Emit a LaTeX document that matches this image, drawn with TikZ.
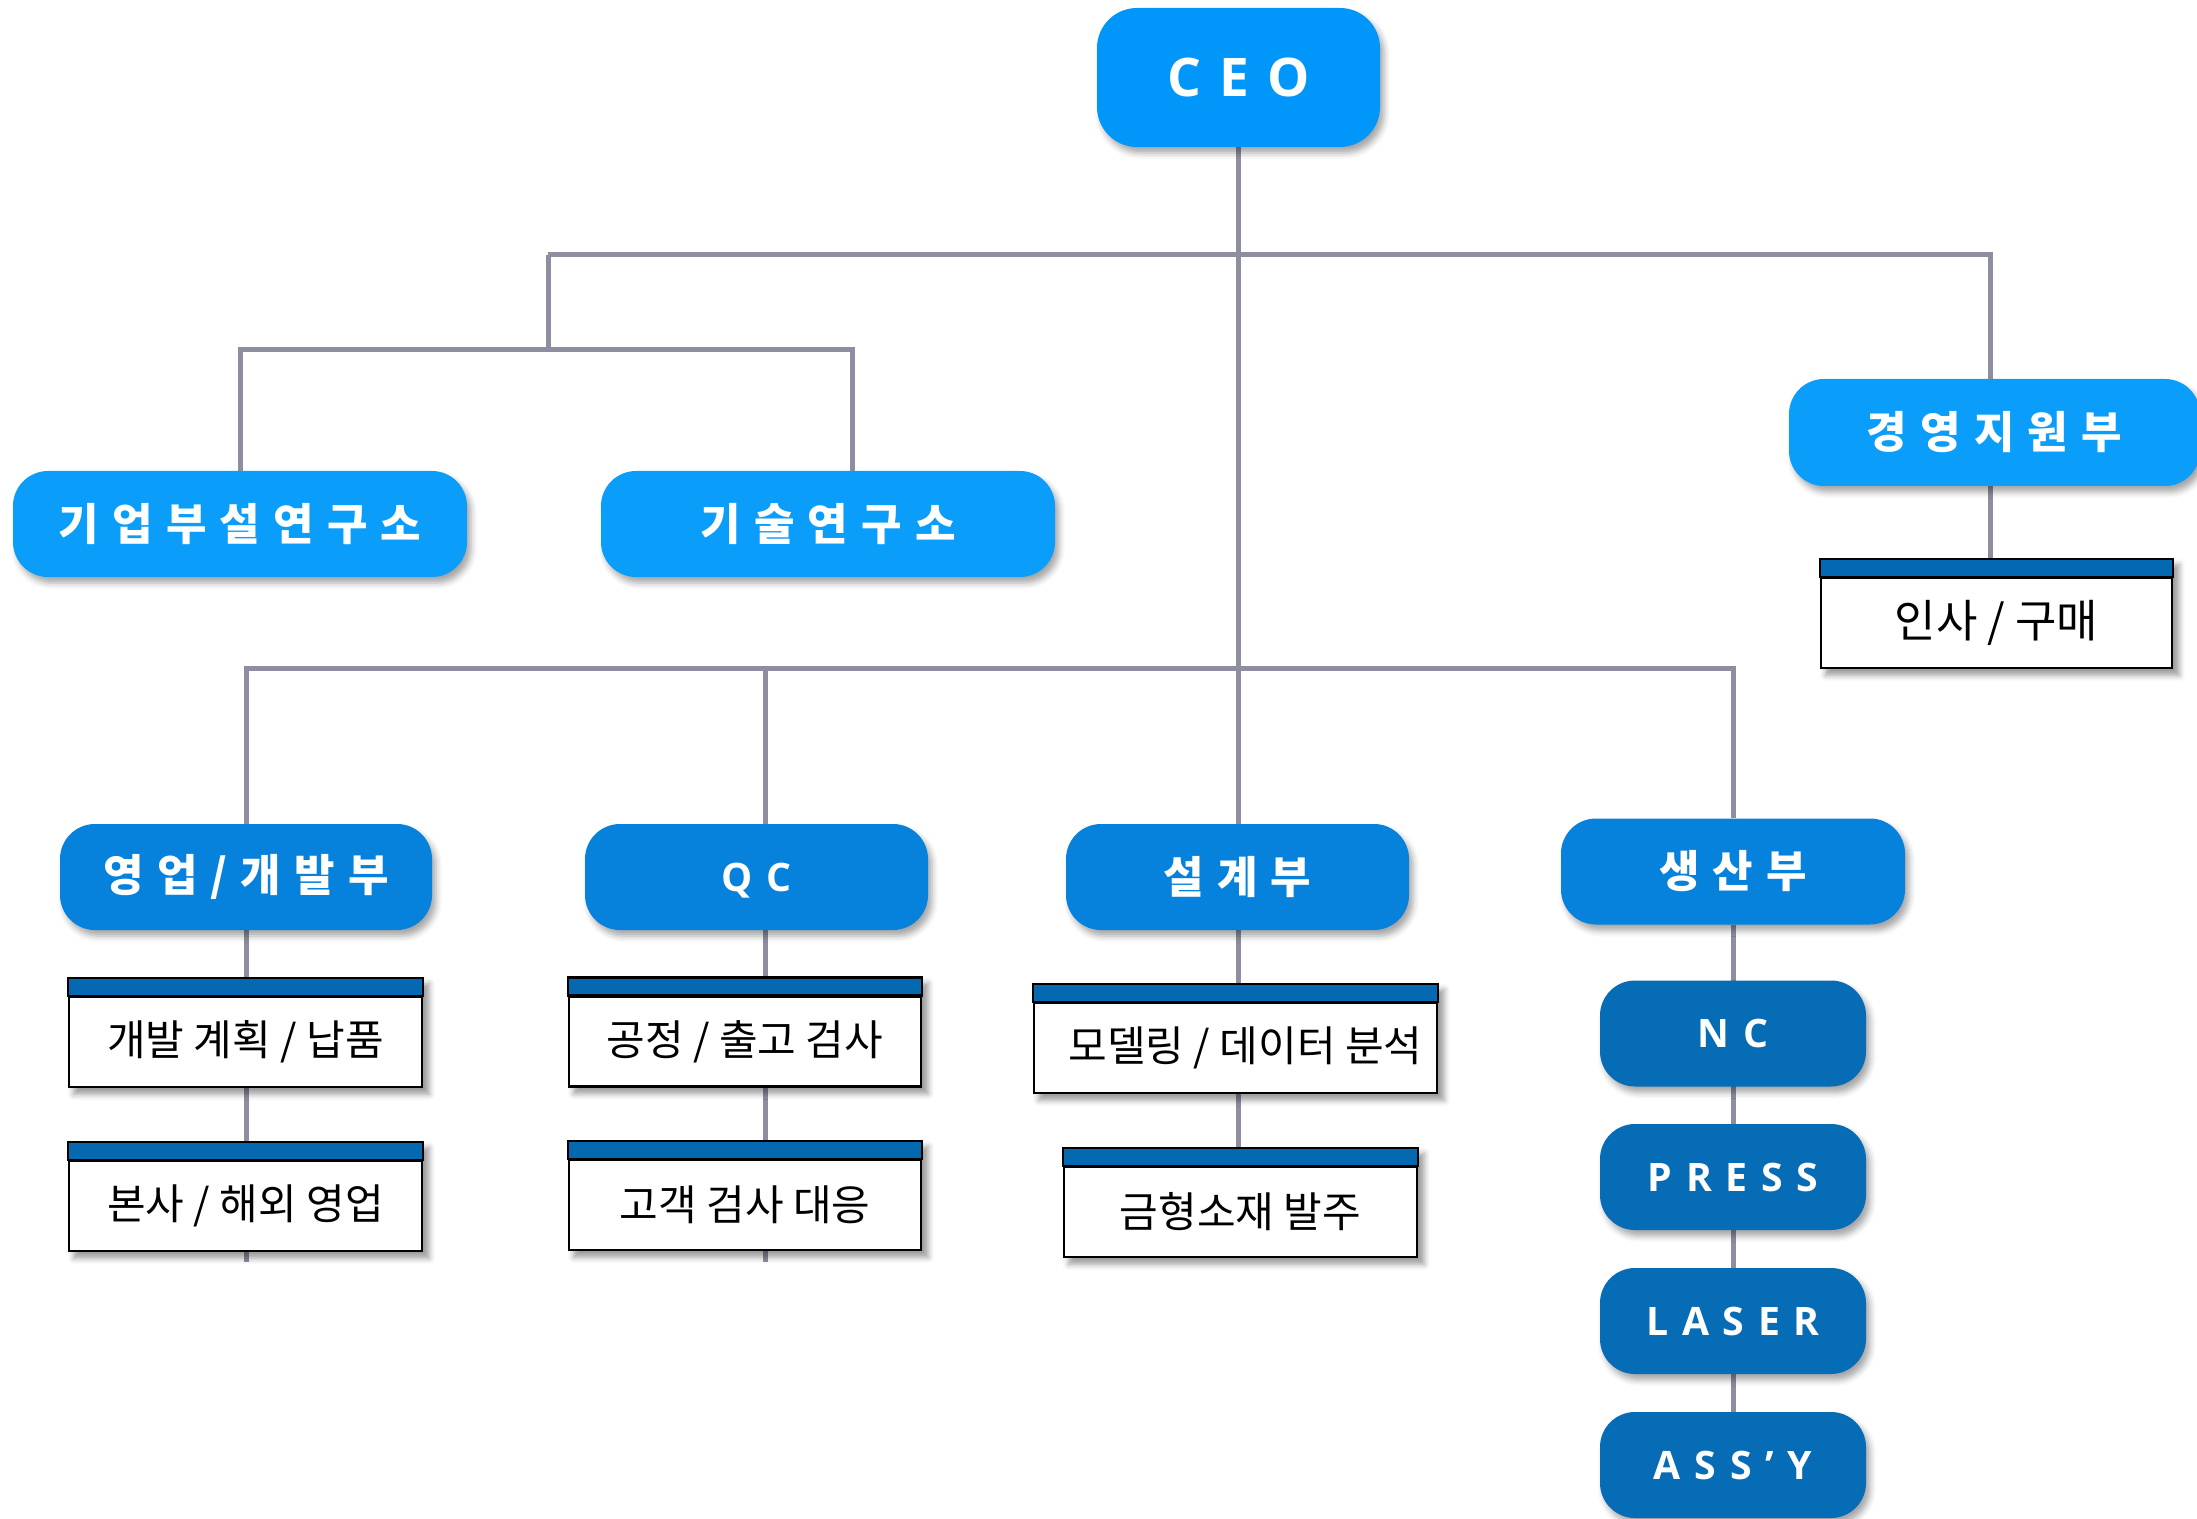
\documentclass[tikz,border=0pt]{standalone}
\usepackage{fontspec}
\usetikzlibrary{shadows.blur,backgrounds}
\newfontfamily\krfont{Noto Sans CJK KR}
\newfontfamily\osfont{Open Sans}
\definecolor{ceoblue}{HTML}{0096FA}
\definecolor{lablue}{HTML}{0A9DFA}
\definecolor{lbblue}{HTML}{0681DC}
\definecolor{lcblue}{HTML}{066CB6}
\definecolor{hdrblue}{HTML}{0569B1}
\definecolor{linegray}{HTML}{8D8EA0}
\makeatletter
\newcommand\spaced[2]{\def\sp@gap{#1}\sp@go#2\sp@stop}
\def\sp@stop{}
\def\sp@go#1{#1\sp@nx}
\def\sp@nx#1{\ifx#1\sp@stop\else\hspace{\sp@gap}#1\expandafter\sp@nx\fi}
\makeatother
\newcommand\latB{\osfont\bfseries\fontsize{19.6}{23}\selectfont}
\newcommand\latA{\osfont\bfseries\fontsize{26.6}{30}\selectfont}
\newcommand\krB{\krfont\bfseries\fontsize{22}{26}\selectfont}
\tikzset{
  conn/.style={draw=linegray, line width=2.5pt},
  pill/.style={rounded corners=17.5pt, inner sep=0pt, text=white,
    blur shadow={shadow xshift=2pt, shadow yshift=-3pt, shadow blur radius=3pt, shadow opacity=35}},
  ceobox/.style={pill, rounded corners=20pt, fill=ceoblue, font=\latA, text depth=0pt},
  lvlA/.style={pill, fill=lablue, font=\krB, minimum height=53pt},
  lvlB/.style={pill, fill=lbblue, font=\krB, minimum height=53pt},
  lvlC/.style={pill, fill=lcblue, font=\latB, text depth=0pt, minimum width=133pt, minimum height=53pt},
  tbox/.style={draw=black, line width=1.15pt, fill=white, inner sep=0pt, text=black,
    font=\krfont\fontsize{21}{25}\selectfont, minimum height=45pt},
  hdr/.style={draw=black, line width=1.15pt, fill=hdrblue},
  tshadow/.style={fill=white, blur shadow={shadow xshift=3pt, shadow yshift=-3pt, shadow blur radius=3pt, shadow opacity=40}}
}
\begin{document}
\begin{tikzpicture}[x=0.5pt,y=-0.5pt]
\useasboundingbox (0,0) rectangle (2197,1519);
% top
\node[ceobox, minimum width=141.5pt, minimum height=69.5pt] (ceo) at (1238.5,77.5) {\spaced{0.34em}{CEO}};
% level A
\node[lvlA, minimum width=227pt] (lab1) at (240,524) {\spaced{0.3em}{기업부설연구소}};
\node[lvlA, minimum width=227pt] (lab2) at (828,524) {\spaced{0.3em}{기술연구소}};
\node[lvlA, minimum width=205.5pt, minimum height=53.5pt] (mgmt) at (1994.5,432.5) {\spaced{0.3em}{경영지원부}};
% level B
\node[lvlB, minimum width=186pt] (sales) at (246,877) {\spaced{0.3em}{영업/개발부}};
\node[lvlB, minimum width=171.5pt, font=\latB, text depth=0pt] (qc) at (756.5,877) {\spaced{0.35em}{QC}};
\node[lvlB, minimum width=171.5pt] (design) at (1237.5,877) {\spaced{0.3em}{설계부}};
\node[lvlB, minimum width=172pt] (prod) at (1733,871.5) {\spaced{0.3em}{생산부}};
% level C
\node[lvlC] (nc) at (1733,1033.5) {\spaced{0.35em}{NC}};
\node[lvlC] (press) at (1733,1177) {\spaced{0.35em}{PRESS}};
\node[lvlC] (laser) at (1733,1321) {\spaced{0.35em}{LASER}};
\node[lvlC] (assy) at (1733,1465) {\spaced{0.35em}{ASS’Y}};
% text boxes
\node[tbox, minimum width=175.5pt, font=\krfont\fontsize{22.5}{26}\selectfont] (hr) at (1996.5,623) {인사 / 구매};
\node[tbox, minimum width=176.5pt] (s1) at (245.5,1042) {개발 계획 / 납품};
\node[tbox, minimum width=176.5pt] (s2) at (245.5,1206) {본사 / 해외 영업};
\node[tbox, minimum width=176pt] (q1) at (745,1041.5) {공정 / 출고 검사};
\node[tbox, minimum width=176pt] (q2) at (745,1205) {고객 검사 대응};
\node[tbox, minimum width=201.5pt] (d1) at (1235.5,1048) {\hspace*{10pt}모델링 / 데이터 분석};
\node[tbox, minimum width=176.5pt] (d2) at (1240.5,1212) {금형소재 발주};
\foreach \n in {hr,s1,s2,q1,q2,d1,d2}
  \filldraw[hdr] (\n.north west) rectangle ([yshift=9pt]\n.north east);
% connectors
\coordinate (bus1) at (548,255);
\coordinate (bus2) at (548,350);
\coordinate (bus3) at (1241,668);
\coordinate (labx) at ([xshift=12pt]lab2.north);
\coordinate (mgx) at ([xshift=-2.25pt]mgmt.north);
\coordinate (mgy) at ([xshift=-2.25pt]mgmt.south);
\coordinate (qcx) at ([xshift=4.25pt]qc.north);
\coordinate (qcy) at ([xshift=4.25pt]qc.south);
\coordinate (qend) at ([yshift=-5.5pt]q2.south);
\coordinate (send) at ([yshift=-5pt]s2.south);
\begin{scope}[on background layer]
\draw[conn] (ceo.south) -- (ceo.south |- design.north);
\draw[conn] (bus1) -| (mgx);
\draw[conn] (bus1) -- (bus2);
\draw[conn] (lab1.north) |- (bus2) -| (labx);
\draw[conn] (sales.north) |- (bus3) -| (prod.north);
\draw[conn] (qcx) -- (qcx |- bus3);
\draw[conn] (sales.south) -- (sales.south |- send);
\draw[conn] (qcy) -- (qcy |- qend);
\draw[conn] (ceo.south |- design.south) -- (ceo.south |- d2.center);
\draw[conn] (prod.south) -- (assy.north);
\draw[conn] (mgy) -- (mgy |- hr.center);
\foreach \n in {hr,s1,s2,q1,q2,d1,d2}
  \fill[tshadow] (\n.south west) rectangle ([yshift=9pt]\n.north east);
\end{scope}
\end{tikzpicture}
\end{document}
